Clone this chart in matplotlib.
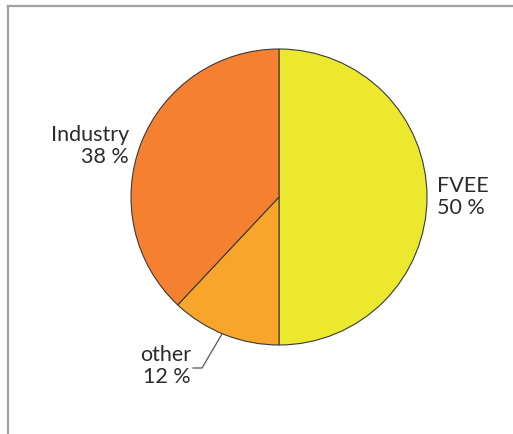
import matplotlib
matplotlib.use('Agg')
import matplotlib.pyplot as plt
from matplotlib.lines import Line2D

# ── Data ───────────────────────────────────────────────────────────
labels = ['FVEE', 'other', 'Industry']
shares = [50, 12, 38]
colors = ['#ebe82e', '#f7a52b', '#f58030']

plt.rcParams['font.family'] = ['Lato', 'DejaVu Sans']

W, H = 513, 434
fig = plt.figure(figsize=(W / 100, H / 100), dpi=100)
ax = fig.add_axes([0, 0, 1, 1])
ax.set_xlim(0, W)
ax.set_ylim(H, 0)
ax.axis('off')

# pie drawn in its own axes so it stays round and clockwise
pax = fig.add_axes([(279 - 148) / W, 1 - (197 + 148) / H, 296 / W, 296 / H])
pax.pie(shares, colors=colors, startangle=90, counterclock=False,
        wedgeprops=dict(edgecolor='#3a3a3a', linewidth=0.8))
pax.set_xlim(-1, 1)
pax.set_ylim(-1, 1)
pax.set_aspect('equal')
pax.axis('off')

# frame lines (top and left)
ax.add_line(Line2D([8, W], [6, 6], color='#a0a0a0', lw=1.6))
ax.add_line(Line2D([8, 8], [6, H], color='#a0a0a0', lw=1.6))

txt = dict(fontsize=15.5, color='#2b2b2b', linespacing=1.12)
ax.text(437, 176, f'{labels[0]}\n{shares[0]} %', ha='left', va='top', **txt)
ax.text(129, 125, f'{labels[2]}\n{shares[2]} %', ha='right', va='top', **txt)
ax.text(191, 345, f'{labels[1]}\n{shares[1]} %', ha='right', va='top', **txt)

# leader line for "other"
ax.add_line(Line2D([222, 202, 193], [334, 368, 368], color='#555555', lw=0.9))

fig.savefig('out.png', dpi=100)
